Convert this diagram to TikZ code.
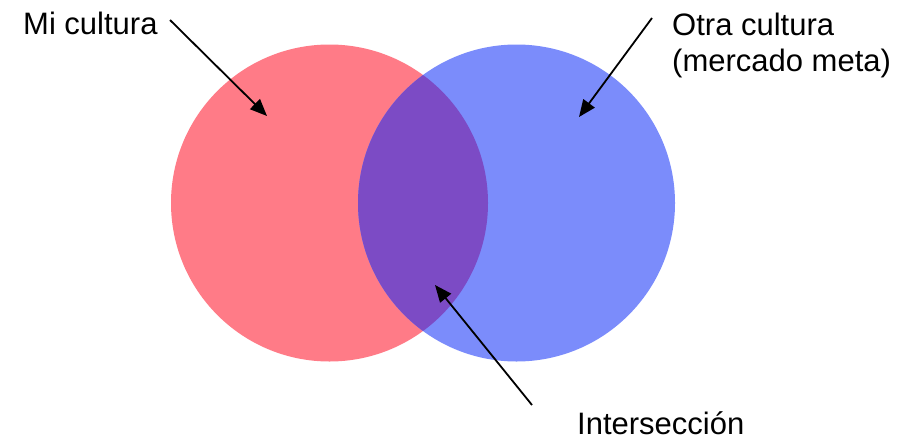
\documentclass[tikz,border=0pt]{standalone}
\usepackage{fontspec}
\setmainfont{Liberation Sans}
\usetikzlibrary{arrows.meta}
\definecolor{mine}{RGB}{255,123,135}
\definecolor{other}{RGB}{123,140,251}
\definecolor{shared}{RGB}{124,75,197}
\tikzset{
  label text/.style={inner sep=0pt, font=\fontsize{31}{36}\selectfont, text=black},
  pointer/.style={draw=black, line width=1.8pt, -{Triangle[length=17pt,width=14pt]}},
  set disc/.style={circle, inner sep=0pt, minimum size=317pt, draw=none}
}
\begin{document}
\begin{tikzpicture}[x=1pt, y=-1pt]
  \useasboundingbox (0,0) rectangle (915,437);
  % the two sets
  \node[set disc, fill=mine] (mine) at (329.5,203) {};
  \node[set disc, fill=other] (other) at (516.5,203) {};
  % their common part
  \begin{scope}
    \clip (516.5,203) circle (158.5);
    \fill[shared] (329.5,203) circle (158.5);
  \end{scope}
  % labels
  \node[label text, anchor=base west] (lmine) at (23,34) {Mi cultura};
  \node[label text, anchor=north west, align=left] (lother) at (672,13) {Otra cultura\\(mercado meta)};
  \node[label text, anchor=base west] (lshared) at (577,434) {Intersección};
  % arrow ends
  \coordinate (tmine) at (170,20);
  \coordinate (hmine) at (267,116);
  \coordinate (tother) at (652,18);
  \coordinate (hother) at (579,117);
  \coordinate (tshared) at (532,405);
  \coordinate (hshared) at (435,285);
  \draw[pointer] (tmine) -- (hmine);
  \draw[pointer] (tother) -- (hother);
  \draw[pointer] (tshared) -- (hshared);
\end{tikzpicture}
\end{document}
